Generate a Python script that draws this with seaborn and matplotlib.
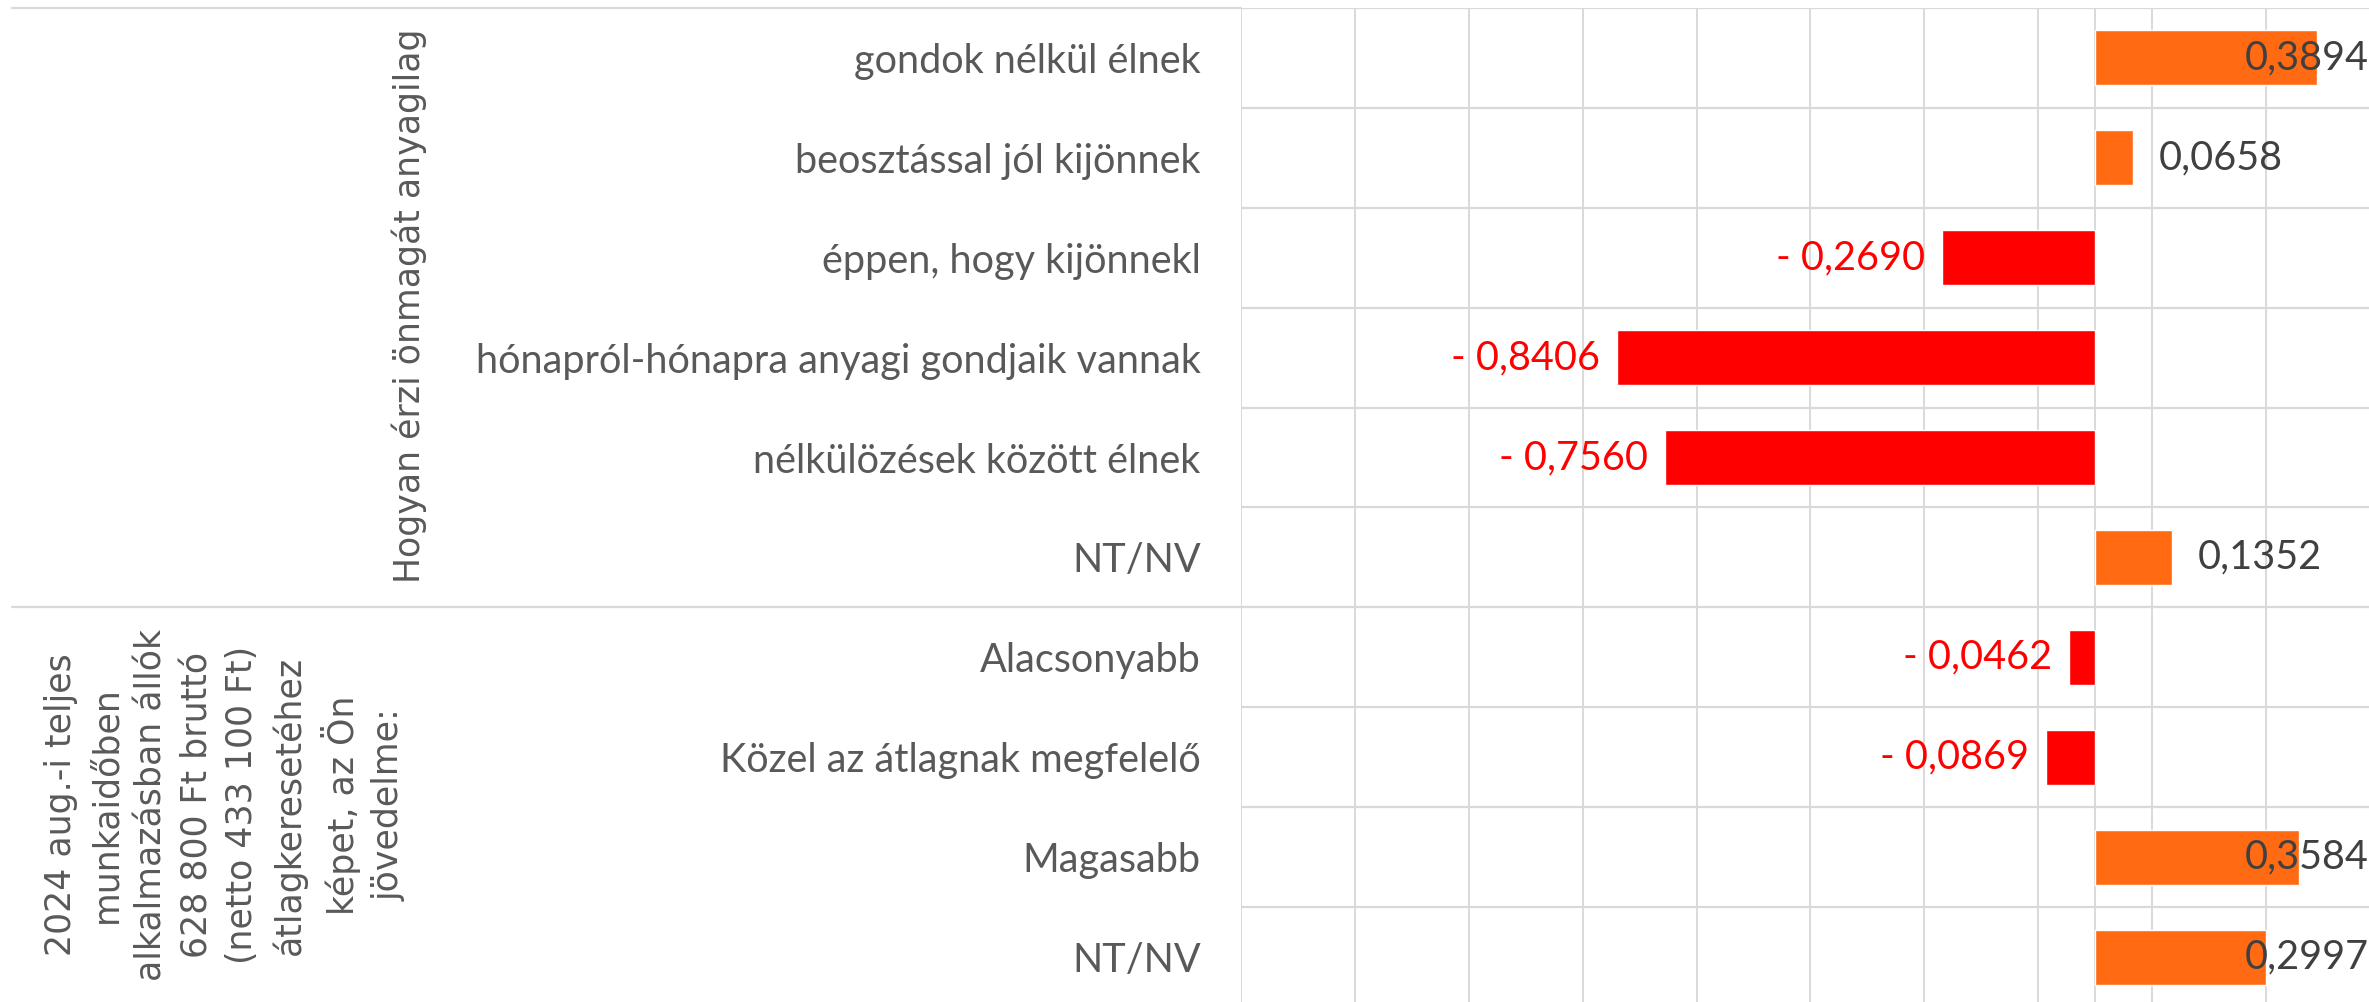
import matplotlib
matplotlib.use("Agg")
import matplotlib.pyplot as plt
import matplotlib.transforms as mtransforms
from matplotlib.font_manager import FontProperties
import seaborn as sns
import numpy as np
import pandas as pd

# data
categories = ['gondok nélkül élnek',
              'beosztással jól kijönnek',
              'éppen, hogy kijönnekl',
              'hónapról-hónapra anyagi gondjaik vannak',
              'nélkülözések között élnek',
              'NT/NV',
              'Alacsonyabb',
              'Közel az átlagnak megfelelő',
              'Magasabb',
              'NT/NV']
values = [0.3894, 0.0658, -0.2690, -0.8406, -0.7560, 0.1352,
          -0.0462, -0.0869, 0.3584, 0.2997]
group_titles = ['Hogyan érzi önmagát anyagilag',
                '2024 aug.-i teljes\nmunkaidőben\nalkalmazásban állók\n628 800 Ft bruttó\n'
                '(netto 433 100 Ft)\nátlagkeresetéhez\nképet, az Ön\njövedelme:']

POS = '#FF6A13'
NEG = '#FF0000'
GRID = '#D9D9D9'
FS = 28.5

sns.set_theme(style='white')
plt.rcParams['font.family'] = ['Lato', 'DejaVu Sans']

df = pd.DataFrame({'key': [f'{i}' for i in range(len(categories))],
                   'cat': categories,
                   'value': values,
                   'sign': ['pos' if v >= 0 else 'neg' for v in values]})

W, H = 2369, 1002
fig = plt.figure(figsize=(W / 100, H / 100), dpi=100)
ax = fig.add_axes([1241 / W, -5 / H, 1 - 1241 / W, 999 / H])

sns.barplot(data=df, x='value', y='key', hue='sign', palette={'pos': POS, 'neg': NEG},
            dodge=False, width=0.55, legend=False, orient='h', ax=ax, saturation=1)

ax.set_xlim(-1.5, (W - 2095) / 570)
ax.set_ylim(len(categories) - 0.5, -0.5)
ax.set_xticks(np.arange(-1.5, 0.45, 0.2))
ax.set_xticklabels([])
ax.tick_params(axis='x', length=0)
ax.set_xlabel('')
ax.set_ylabel('')
ax.set_yticks(range(len(categories)))
ax.set_yticklabels(categories, fontsize=FS, color='#595959')
ax.tick_params(axis='y', length=0, pad=29)
for s in ax.spines.values():
    s.set_visible(False)
ax.xaxis.grid(True, color=GRID, lw=1.4)
ax.set_axisbelow(True)
ax.axvline(0, color=GRID, lw=1.4, zorder=0.5)
for b in np.arange(-0.5, len(categories), 1):
    ax.axhline(b, color=GRID, lw=1.6, zorder=0.5)

# group separators reach into the label area
tr = mtransforms.blended_transform_factory(fig.transFigure, ax.transData)
for b in [-0.5, 5.5, 9.5]:
    ax.plot([12 / W, 1241 / W], [b, b], color=GRID, lw=1.6, transform=tr, clip_on=False)

# group titles (wide geometric face in the original)
gfont = FontProperties(family=['DejaVu Sans'], size=25)
fig.text(409 / W, 1 - 306 / H, group_titles[0], rotation=90, ha='center', va='center',
         fontproperties=gfont, color='#595959')
fig.text(225 / W, 1 - 805 / H, group_titles[1], rotation=90, ha='center', va='center',
         fontproperties=gfont, color='#595959', linespacing=1.42,
         multialignment='center')

# data labels
fig.canvas.draw()
renderer = fig.canvas.get_renderer()
right_px = ax.get_window_extent().x1
for i, v in enumerate(values):
    if v >= 0:
        txt = f'{v:.4f}'.replace('.', ',')
        t = ax.annotate(txt, (v, i), xytext=(18.7, 0), textcoords='offset points',
                        ha='left', va='center', fontsize=FS, color='#404040')
        bb = t.get_window_extent(renderer)
        if bb.x1 > right_px:
            t.remove()
            ax.annotate(txt, (1, i), xycoords=('axes fraction', 'data'),
                        ha='right', va='center', fontsize=FS, color='#404040')
    else:
        txt = '- ' + f'{abs(v):.4f}'.replace('.', ',')
        ax.annotate(txt, (v, i), xytext=(-12, 0), textcoords='offset points',
                    ha='right', va='center', fontsize=FS, color=NEG)

fig.savefig('out.png', dpi=100)
